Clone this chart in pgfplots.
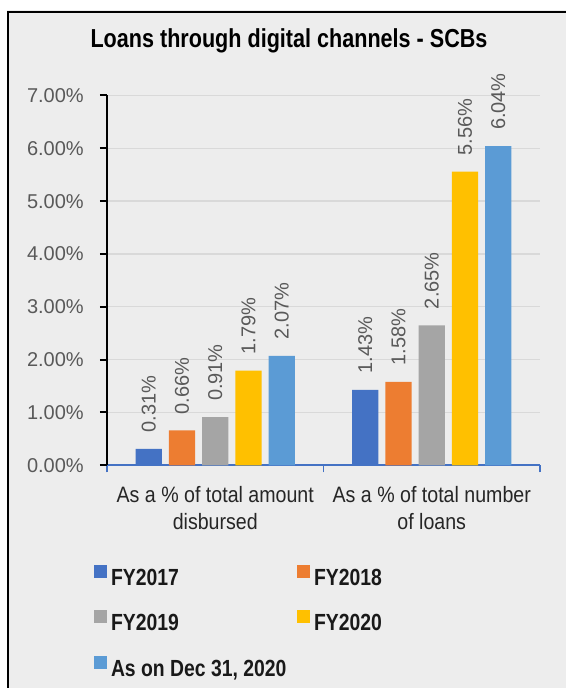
\documentclass[border=0pt]{standalone}
\usepackage{fontspec}
\setmainfont{Liberation Sans}
\newfontfamily\narrowfont[FakeStretch=0.83]{Liberation Sans}
\newfontfamily\catfont[FakeStretch=0.88]{Liberation Sans}
\usepackage{pgfplots}
\pgfplotsset{compat=1.18}

\definecolor{c1}{HTML}{4472C4}
\definecolor{c2}{HTML}{ED7D31}
\definecolor{c3}{HTML}{A5A5A5}
\definecolor{c4}{HTML}{FFC000}
\definecolor{c5}{HTML}{5B9BD5}
\definecolor{bgc}{HTML}{EDEDED}
\definecolor{gridc}{HTML}{D9D9D9}
\definecolor{tickc}{HTML}{595959}

\begin{document}
\begin{tikzpicture}
% page background and chart frame (px -> pt at 0.75, origin at axis corner)
\fill[white] (-80.25pt,-167.025pt) rectangle (344.25pt,348.975pt);
\fill[bgc] (-75pt,-167.025pt) rectangle (344.25pt,341.5pt);
\draw[black, line width=1.5pt] (-74.25pt,-170pt) -- (-74.25pt,340.1pt) -- (350pt,340.1pt);

\begin{axis}[
    scale only axis, width=324.75pt, height=277.35pt,
    xmin=-0.5, xmax=1.5, ymin=0, ymax=7,
    ybar=5.2pt, bar width=19.7pt,
    clip=false,
    axis x line*=bottom, axis y line*=left,
    x axis line style={c1, line width=1.3pt},
    y axis line style={black, line width=1.5pt},
    tick align=outside, major tick length=5.25pt,
    x tick style={c1, line width=1.3pt},
    y tick style={black, line width=1.5pt},
    xtick={-0.5,0.5,1.5}, xticklabels={},
    extra x ticks={0,1},
    extra x tick labels={{As a \% of total amount\\disbursed},{As a \% of total number\\of loans}},
    extra x tick style={major tick length=0pt},
    x tick label style={font=\catfont\fontsize{16.7}{20}\selectfont, align=center, text=black!85,
        inner sep=0pt, yshift=-15.5pt},
    ytick={0,1,...,7},
    /pgf/number format/assume math mode=true,
    yticklabel={\pgfmathprintnumber[fixed,fixed zerofill,precision=2]{\tick}\%},
    y tick label style={font=\fontsize{15}{18}\selectfont, text=tickc, inner sep=0pt, xshift=-12pt},
    ymajorgrids, grid style={gridc, line width=1pt},
    point meta=y,
    nodes near coords={\pgfmathprintnumber[fixed,fixed zerofill,precision=2]{\pgfplotspointmeta}\%},
    nodes near coords style={rotate=90, anchor=west, inner xsep=12pt, inner ysep=0pt, font=\fontsize{15}{18}\selectfont, text=tickc},
    title={Loans through digital channels - SCBs},
    title style={at={(axis description cs:0.4203,1.1069)}, anchor=base, inner sep=0pt,
        font=\narrowfont\bfseries\fontsize{19.5}{20}\selectfont},
    legend image code/.code={\fill[#1] (0pt,0.9pt) rectangle (9.75pt,10.65pt);},
    legend columns=2, legend cell align=left,
    legend style={at={(axis description cs:-0.0300,-0.2697)}, anchor=north west,
        draw=none, fill=none, inner sep=0pt, outer sep=0pt, row sep=15.6pt,
        font=\narrowfont\bfseries\fontsize{17.5}{18}\selectfont, text=black!90,
        nodes={inner sep=0pt, text height=12.5pt, text depth=3pt},
        /tikz/every odd column/.append style={column sep=3pt},
        /tikz/every even column/.append style={column sep=8pt}},
]
\addplot[fill=c1, draw=none] coordinates {(0,0.31) (1,1.43)};
\addlegendentry{FY2017}
\addplot[fill=c2, draw=none] coordinates {(0,0.66) (1,1.58)};
\addlegendentry{FY2018}
\addplot[fill=c3, draw=none] coordinates {(0,0.91) (1,2.65)};
\addlegendentry{FY2019}
\addplot[fill=c4, draw=none] coordinates {(0,1.79) (1,5.56)};
\addlegendentry{FY2020}
\addplot[fill=c5, draw=none] coordinates {(0,2.07) (1,6.04)};
\addlegendentry{As on Dec 31, 2020}
\end{axis}

\pgfresetboundingbox
\useasboundingbox (-80.25pt,-167.025pt) rectangle (344.25pt,348.975pt);
\end{tikzpicture}
\end{document}
